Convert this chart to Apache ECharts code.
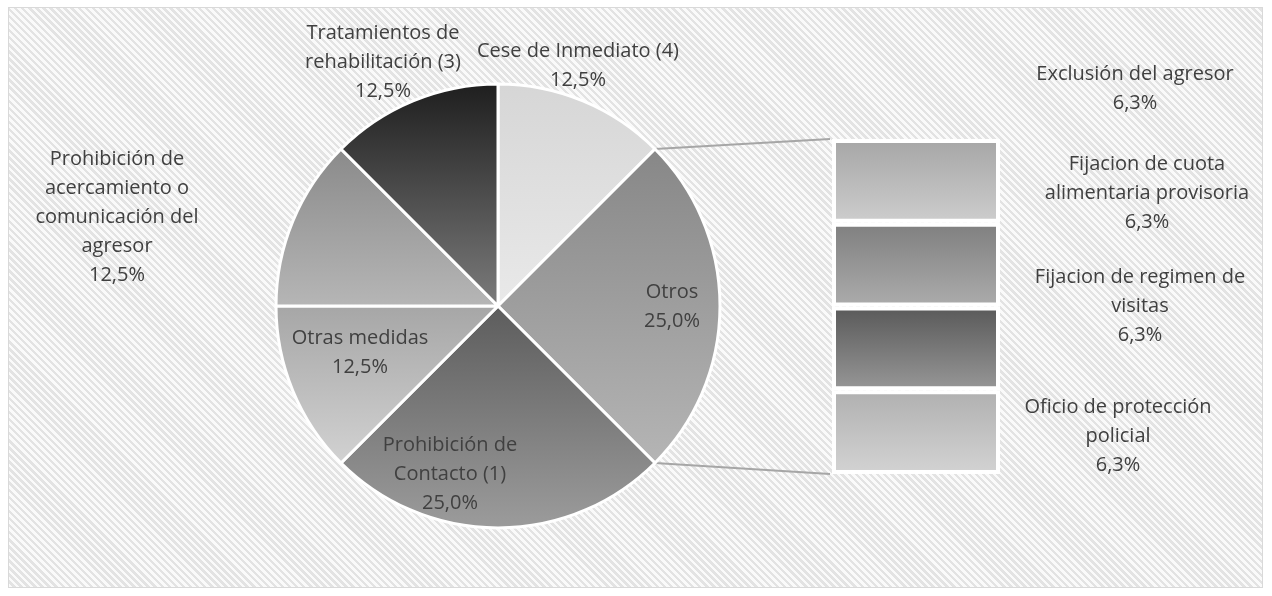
<!DOCTYPE html>
<html>
<head>
<meta charset="utf-8">
<script src="https://cdn.jsdelivr.net/npm/echarts@6/dist/echarts.min.js"></script>
<style>
html, body { margin: 0; padding: 0; background: #fff; }
#frame {
  position: absolute; left: 8px; top: 7px; width: 1253px; height: 579px;
  border: 1px solid #d9d9d9;
  background: repeating-linear-gradient(45deg, #fafafa 0, #fafafa 2.5px, #e3e3e3 2.5px, #e3e3e3 5px);
}
#main { position: absolute; left: 0; top: 0; width: 1272px; height: 596px; }
</style>
</head>
<body>
<div id="frame"></div>
<div id="main"></div>
<script>
// datos (frecuencias) del grafico de torta
var pieNames = [
  'Cese de Inmediato (4)',
  'Otros',
  'Prohibición de\nContacto (1)',
  'Otras medidas',
  'Prohibición de\nacercamiento o\ncomunicación del\nagresor',
  'Tratamientos de\nrehabilitación (3)'
];
var pieValues = [2, 4, 4, 2, 2, 2];

// desglose de "Otros" (barra)
var barNames = [
  'Exclusión del agresor',
  'Fijacion de cuota\nalimentaria provisoria',
  'Fijacion de regimen de\nvisitas',
  'Oficio de protección\npolicial'
];
var barValues = [1, 1, 1, 1];

// estilos
var pieShades = [
  ['#d6d6d6', '#e9e9e9'],
  ['#878787', '#b5b5b5'],
  ['#5c5c5c', '#9c9c9c'],
  ['#a6a6a6', '#d2d2d2'],
  ['#8a8a8a', '#b6b6b6'],
  ['#1e1e1e', '#7c7c7c']
];
var barShades = [
  ['#a6a6a6', '#cdcdcd'],
  ['#7f7f7f', '#acacac'],
  ['#595959', '#979797'],
  ['#b0b0b0', '#d3d3d3']
];
var pieLabelPos = [[578, 66], [672, 307], [450, 474], [360, 353], [117, 217], [383, 62]];
var barLabelPos = [[303, -92], [315, -71], [308, -42], [286, 4]];

var total = pieValues.reduce(function (a, b) { return a + b; }, 0);
function pct(v) {
  return (v / total * 100).toFixed(1).replace('.', ',') + '%';
}
function grad(c) {
  return new echarts.graphic.LinearGradient(0, 0, 0, 1, [
    { offset: 0, color: c[0] }, { offset: 1, color: c[1] }
  ]);
}

var cx = 498, cy = 306, r = 222;
var gridLeft = 832, gridTop = 139, gridW = 168, gridH = 335;
var txt = { fontFamily: 'Open Sans', fontSize: 20, color: '#404040', lineHeight: 29 };

var myChart = echarts.init(document.getElementById('main'));

var series = [{
  type: 'pie',
  center: [cx, cy],
  radius: r,
  startAngle: 90,
  clockwise: true,
  silent: true,
  animation: false,
  avoidLabelOverlap: false,
  itemStyle: { borderColor: '#fff', borderWidth: 3 },
  label: Object.assign({
    show: true,
    position: 'inside',
    align: 'center',
    formatter: function (p) { return p.name + '\n' + pct(p.value); }
  }, txt),
  labelLine: { show: false },
  labelLayout: function (p) {
    var pos = pieLabelPos[p.dataIndex];
    return { x: pos[0], y: pos[1], align: 'center', verticalAlign: 'middle' };
  },
  data: pieNames.map(function (n, i) {
    return { name: n, value: pieValues[i], itemStyle: { color: grad(pieShades[i]) } };
  })
}];

barNames.forEach(function (n, i) {
  series.push({
    type: 'bar',
    name: n,
    stack: 'otros',
    barWidth: '100%',
    silent: true,
    animation: false,
    itemStyle: { color: grad(barShades[i]), borderColor: '#fff', borderWidth: 4 },
    label: Object.assign({
      show: true,
      position: [barLabelPos[i][0], '50%'],
      offset: [0, barLabelPos[i][1]],
      align: 'center',
      verticalAlign: 'middle',
      formatter: function (p) { return p.seriesName + '\n' + pct(p.value); }
    }, txt),
    data: [barValues[i]]
  });
});

var option = {
  backgroundColor: 'transparent',
  grid: { left: gridLeft, top: gridTop, width: gridW, height: gridH },
  xAxis: { type: 'category', data: ['Otros'], show: false, boundaryGap: true },
  yAxis: { type: 'value', min: 0, max: 4, inverse: true, show: false },
  series: series
};
myChart.setOption(option);

// lineas de conexion entre el sector "Otros" y la barra
var before = pieValues[0];
var t0 = before / total * 2 * Math.PI;
var t1 = (before + pieValues[1]) / total * 2 * Math.PI;
var yTop = myChart.convertToPixel({ yAxisIndex: 0 }, 0);
var yBot = myChart.convertToPixel({ yAxisIndex: 0 }, 4);
var lineStyle = { stroke: '#a6a6a6', lineWidth: 2 };
myChart.setOption({
  graphic: [
    { type: 'line', silent: true, shape: { x1: cx + r * Math.sin(t0), y1: cy - r * Math.cos(t0), x2: gridLeft - 2, y2: yTop }, style: lineStyle },
    { type: 'line', silent: true, shape: { x1: cx + r * Math.sin(t1), y1: cy - r * Math.cos(t1), x2: gridLeft - 2, y2: yBot }, style: lineStyle }
  ]
});
</script>
</body>
</html>
